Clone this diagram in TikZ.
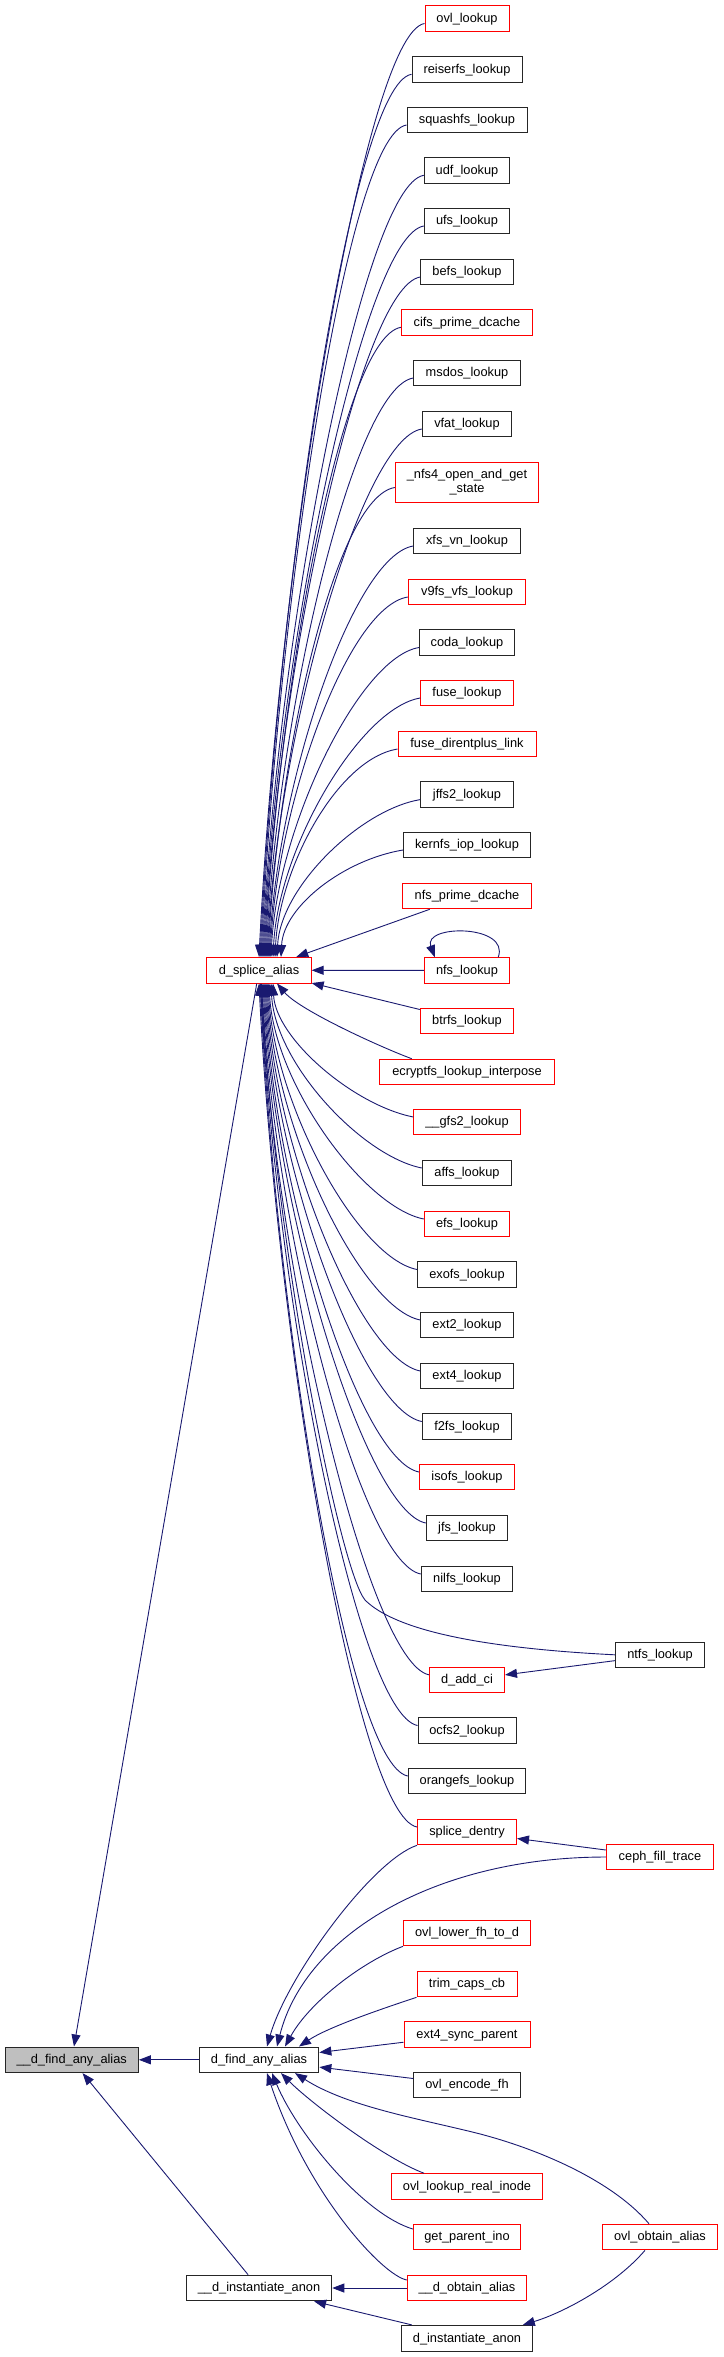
\documentclass[tikz,border=0pt]{standalone}
\usepackage{fontspec}
\newfontfamily\lsf{Liberation Sans}
\usetikzlibrary{arrows.meta,calc}
\definecolor{navy}{HTML}{191970}
\begin{document}
\begin{tikzpicture}[x=1pt,y=-1pt,
  base/.style={draw, line width=1pt, fill=white, font=\lsf\fontsize{12.8pt}{14pt}\selectfont, inner sep=0pt, minimum height=25.6pt},
  bk/.style={base, draw=black!85, text height=9.2pt, text depth=1.6pt},
  rd/.style={base, draw=red, text height=9.2pt, text depth=1.6pt},
  conn/.style={draw=navy, line width=0.9pt, -{Triangle[length=12pt,width=9pt]}}]
\useasboundingbox (0,0) rectangle (723,2357);
% right column
\node[rd, minimum width=84pt]   (ovl)   at (467,18.5)  {ovl\_lookup};
\node[bk, minimum width=110pt]  (reis)  at (467,69.3)  {reiserfs\_lookup};
\node[bk, minimum width=120pt]  (squa)  at (467,120)   {squashfs\_lookup};
\node[bk, minimum width=85.5pt] (udf)   at (467,170.3) {udf\_lookup};
\node[bk, minimum width=85.5pt] (ufs)   at (467,221)   {ufs\_lookup};
\node[bk, minimum width=92.5pt] (befs)  at (467,272)   {befs\_lookup};
\node[rd, minimum width=131pt]  (cifs)  at (467,322.3) {cifs\_prime\_dcache};
\node[bk, minimum width=106.5pt](msdos) at (467,373)   {msdos\_lookup};
\node[bk, minimum width=89.5pt] (vfat)  at (467,424)   {vfat\_lookup};
\node[base, draw=red, minimum width=143.5pt, minimum height=40.4pt, align=center] (nfsf) at (467,482.5) {\_nfs4\_open\_and\_get\\\_state};
\node[bk, minimum width=106.5pt](xfs)   at (467,541)   {xfs\_vn\_lookup};
\node[rd, minimum width=117.5pt](vnfs)  at (467,592)   {v9fs\_vfs\_lookup};
\node[bk, minimum width=95pt]   (coda)  at (467,642.5) {coda\_lookup};
\node[rd, minimum width=92.5pt] (fuse)  at (467,693)   {fuse\_lookup};
\node[rd, minimum width=138pt]  (fdl)   at (467,744)   {fuse\_direntplus\_link};
\node[bk, minimum width=92.5pt] (jffs)  at (467,794.6) {jffs2\_lookup};
\node[bk, minimum width=127pt]  (kern)  at (467,845)   {kernfs\_iop\_lookup};
\node[rd, minimum width=128.5pt](npd)   at (467,896)   {nfs\_prime\_dcache};
\node[rd, minimum width=85.5pt] (nfsl)  at (467,970.5) {nfs\_lookup};
\node[rd, minimum width=93.5pt] (btr)   at (467,1021)  {btrfs\_lookup};
\node[rd, minimum width=175.5pt](ecr)   at (467,1072)  {ecryptfs\_lookup\_interpose};
\node[rd, minimum width=106.5pt](gfs)   at (467,1122)  {\_\_gfs2\_lookup};
\node[bk, minimum width=89.5pt] (affs)  at (467,1173)  {affs\_lookup};
\node[rd, minimum width=85.5pt] (efs)   at (467,1224)  {efs\_lookup};
\node[bk, minimum width=99pt]   (exo)   at (467,1274.5){exofs\_lookup};
\node[bk, minimum width=92.5pt] (ext2)  at (467,1325)  {ext2\_lookup};
\node[bk, minimum width=92.5pt] (ext4)  at (467,1376)  {ext4\_lookup};
\node[bk, minimum width=89.5pt] (f2fs)  at (467,1426.5){f2fs\_lookup};
\node[rd, minimum width=95pt]   (iso)   at (467,1477)  {isofs\_lookup};
\node[bk, minimum width=81.5pt] (jfs)   at (467,1528)  {jfs\_lookup};
\node[bk, minimum width=91.5pt] (nil)   at (467,1579)  {nilfs\_lookup};
\node[rd, minimum width=75pt]   (dac)   at (467,1679.8){d\_add\_ci};
\node[bk, minimum width=98pt]   (ocfs)  at (467,1730.5){ocfs2\_lookup};
\node[bk, minimum width=117.5pt](orng)  at (467,1781)  {orangefs\_lookup};
\node[rd, minimum width=99pt]   (spd)   at (467,1832)  {splice\_dentry};
\node[rd, minimum width=127pt]  (olf)   at (467,1933)  {ovl\_lower\_fh\_to\_d};
\node[rd, minimum width=100pt]  (trim)  at (467,1984)  {trim\_caps\_cb};
\node[rd, minimum width=126pt]  (e4sp)  at (467,2034.5){ext4\_sync\_parent};
\node[bk, minimum width=106.5pt](oef)   at (467,2085)  {ovl\_encode\_fh};
\node[rd, minimum width=151pt]  (olri)  at (467,2186.5){ovl\_lookup\_real\_inode};
\node[rd, minimum width=107.3pt](gpi)   at (467,2237)  {get\_parent\_ino};
\node[rd, minimum width=119.4pt](dob)   at (467,2288)  {\_\_d\_obtain\_alias};
\node[bk, minimum width=130.6pt](dia)   at (467,2338.2){d\_instantiate\_anon};
% far column
\node[bk, minimum width=89.3pt] (ntfs)  at (660,1654.8){ntfs\_lookup};
\node[rd, minimum width=107.5pt](ceph)  at (660,1857)  {ceph\_fill\_trace};
\node[rd, minimum width=115pt]  (ooa)   at (660,2237)  {ovl\_obtain\_alias};
% middle column
\node[rd, minimum width=104.3pt](dsa)   at (259,970.2) {d\_splice\_alias};
\node[bk, minimum width=119.7pt](dfa)   at (259,2059.8){d\_find\_any\_alias};
\node[bk, minimum width=145.5pt](dia2)  at (259,2288)  {\_\_d\_instantiate\_anon};
% left
\node[bk, fill=black!25, minimum width=133.3pt](dfaa) at (71.7,2059.8){\_\_d\_find\_any\_alias};
% edges into d_splice_alias from above
\foreach \n/\dx/\L in {ovl/0/395, reis/1/375, squa/2/350, udf/3/330, ufs/4/310, befs/5/290, cifs/6/265, msdos/7/245, vfat/8/225, nfsf/9/200, xfs/10/175, vnfs/11/155, coda/12/130, fuse/14/110, fdl/16/90, jffs/18/70, kern/22/50}
  \draw[conn] ($(\n.west)+(0,5)$) .. controls +(-60,10) and +(0.05*\L,-\L) .. ($(dsa.north)+(\dx,0)$);
% edges into d_splice_alias from below
\foreach \n/\dx/\L in {gfs/14/55, affs/12/80, efs/10/100, exo/9/120, ext2/8/145, ext4/7/165, f2fs/6/185, iso/5/205, jfs/4/230, nil/3/250, dac/2/290, ocfs/1.5/315, orng/1/335, spd/0/355}
  \draw[conn] ($(\n.west)+(0,-5)$) .. controls +(-60,-12) and +(0.05*\L,\L) .. ($(dsa.south)+(\dx,0)$);
\draw[conn] (npd) -- (dsa);
\draw[conn] (nfsl) -- (dsa);
\draw[conn] (btr) -- (dsa);
\draw[conn] ($(ecr.north west)+(33,0)$) .. controls +(-30,-11) and +(23,27) .. ($(dsa.south)+(18,0)$);
\draw[conn] ($(nfsl.north east)+(-12,0)$) .. controls +(12,-33) and +(-12,-33) .. ($(nfsl.north west)+(11,0)$);
\draw[conn] (ntfs.west) .. controls (480,1648) and (395,1630) .. (365,1600) .. controls (340,1570) and (275,1250) .. ($(dsa.south)+(2.5,0)$);
\draw[conn] (ntfs) -- (dac);
% edges into d_find_any_alias
\draw[conn] (ceph) -- (spd);
\draw[conn] (ceph.west) .. controls +(-170,0) and +(28,-112) .. ($(dfa.north)+(18,0)$);
\draw[conn] (spd.south west) .. controls +(-45,15) and +(20,-70) .. ($(dfa.north)+(8,0)$);
\draw[conn] (olf.south west) .. controls +(-40,15) and +(25,-45) .. ($(dfa.north)+(26,0)$);
\draw[conn] (trim.south west) .. controls +(-30,10) and +(30,-20) .. ($(dfa.north)+(40,0)$);
\draw[conn] (e4sp) -- (dfa);
\draw[conn] (oef) -- (dfa);
\draw[conn] ($(olri.north west)+(33,0)$) .. controls +(-40,-15) and +(30,30) .. ($(dfa.south)+(22,0)$);
\draw[conn] ($(gpi.west)+(0,-8)$) .. controls +(-50,-15) and +(25,60) .. ($(dfa.south)+(13,0)$);
\draw[conn] ($(dob.west)+(0,-8)$) .. controls +(-25,-5) and +(40,120) .. ($(dfa.south)+(8,0)$);
\draw[conn] ($(ooa.north)+(-11,0)$) .. controls (610,2178) and (530,2145) .. (464,2130) .. controls (410,2117) and (345,2105) .. ($(dfa.south)+(36,0)$);
\draw[conn] ($(ooa.south)+(-15,0)$) .. controls +(-30,35) and +(40,-12) .. ($(dia.north east)+(-10,0)$);
% lower left
\draw[conn] (dob) -- (dia2);
\draw[conn] (dia) -- (dia2);
\draw[conn] (dia2) -- (dfaa);
\draw[conn] (dfa) -- (dfaa);
\draw[conn] (dsa) -- (dfaa);
\end{tikzpicture}
\end{document}
